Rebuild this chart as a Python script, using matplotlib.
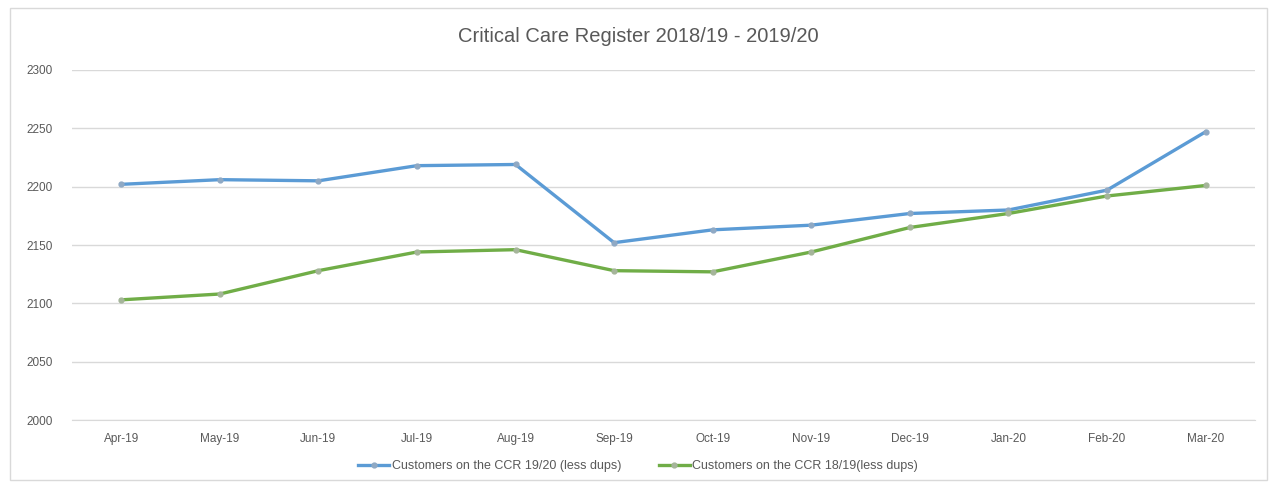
import matplotlib.pyplot as plt
from matplotlib.patches import Rectangle

months = ["Apr-19", "May-19", "Jun-19", "Jul-19", "Aug-19", "Sep-19",
          "Oct-19", "Nov-19", "Dec-19", "Jan-20", "Feb-20", "Mar-20"]
ccr_1920 = [2202, 2206, 2205, 2218, 2219, 2152, 2163, 2167, 2177, 2180, 2197, 2247]
ccr_1819 = [2103, 2108, 2128, 2144, 2146, 2128, 2127, 2144, 2165, 2177, 2192, 2201]
yticks = [2000, 2050, 2100, 2150, 2200, 2250, 2300]

plt.rcParams['font.family'] = ['Liberation Sans', 'DejaVu Sans']

fig = plt.figure(figsize=(12.76, 4.88), dpi=100)
fig.patches.append(Rectangle((0.008, 0.016), 0.985, 0.968, transform=fig.transFigure,
                             fill=False, edgecolor="#d9d9d9", linewidth=1))
ax = fig.add_axes([0.0564, 0.1393, 0.927, 0.7173])

x = list(range(len(months)))
l1, = ax.plot(x, ccr_1920, color="#5b9bd5", linewidth=2.4, marker="o", markersize=3.5,
              markerfacecolor="#8fa9c4", markeredgecolor="#8fa9c4",
              label="Customers on the CCR 19/20 (less dups)")
l2, = ax.plot(x, ccr_1819, color="#70ad47", linewidth=2.4, marker="o", markersize=3.5,
              markerfacecolor="#a5b59a", markeredgecolor="#a5b59a",
              label="Customers on the CCR 18/19(less dups)")

ax.set_xlim(-0.5, len(months) - 0.5)
ax.set_ylim(2000, 2300)
ax.set_yticks(yticks)
ax.set_xticks(x)
ax.set_xticklabels(months)
ax.grid(axis="y", color="#d9d9d9", linewidth=1)
ax.set_axisbelow(True)
for s in ["top", "right", "left"]:
    ax.spines[s].set_visible(False)
ax.spines["bottom"].set_color("#d9d9d9")
ax.tick_params(axis="both", length=0, labelsize=8.5, colors="#595959")
ax.tick_params(axis="x", pad=9)
ax.tick_params(axis="y", pad=14)

fig.text(0.5, 0.925, "Critical Care Register 2018/19 - 2019/20", ha="center", va="center",
         fontsize=14.5, color="#595959")

ax.legend(handles=[l1, l2], loc="center", bbox_to_anchor=(0.5, 0.045), bbox_transform=fig.transFigure,
          ncol=2, frameon=False, fontsize=9, handlelength=2.5, handletextpad=0.2,
          columnspacing=3, labelcolor="#595959")

fig.savefig("out.png", dpi=100)
